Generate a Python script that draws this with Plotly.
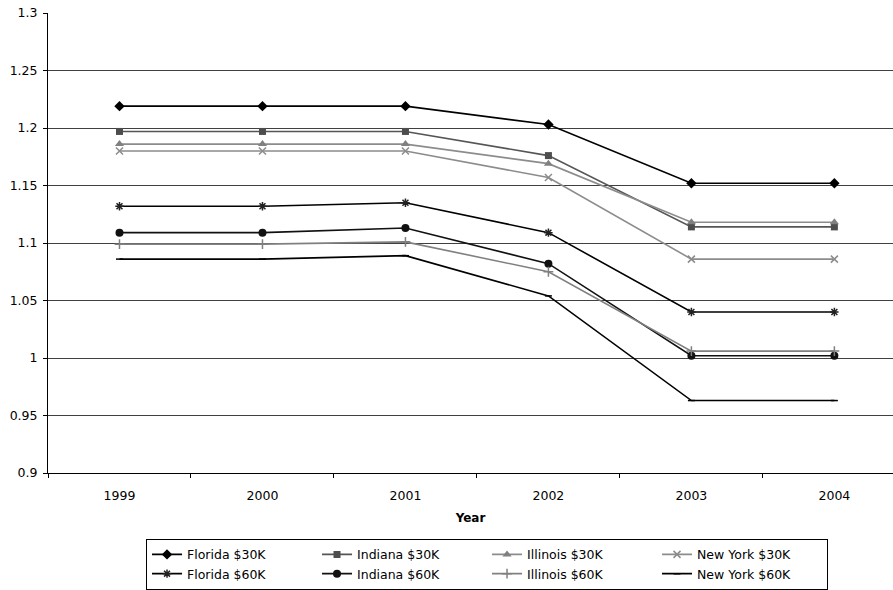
import plotly.graph_objects as go

years = ["1999", "2000", "2001", "2002", "2003", "2004"]

florida_30k = [1.219, 1.219, 1.219, 1.203, 1.152, 1.152]
indiana_30k = [1.197, 1.197, 1.197, 1.176, 1.114, 1.114]
illinois_30k = [1.186, 1.186, 1.186, 1.169, 1.118, 1.118]
newyork_30k = [1.180, 1.180, 1.180, 1.157, 1.086, 1.086]
florida_60k = [1.132, 1.132, 1.135, 1.109, 1.040, 1.040]
indiana_60k = [1.109, 1.109, 1.113, 1.082, 1.002, 1.002]
illinois_60k = [1.099, 1.099, 1.101, 1.075, 1.006, 1.006]
newyork_60k = [1.086, 1.086, 1.089, 1.054, 0.963, 0.963]

series = [
    ("Florida $30K", florida_30k, "#000000", "diamond", 8, "#000000"),
    ("Indiana $30K", indiana_30k, "#555555", "square", 7, "#4d4d4d"),
    ("Illinois $30K", illinois_30k, "#8c8c8c", "triangle-up", 8, "#808080"),
    ("New York $30K", newyork_30k, "#8c8c8c", "x-thin-open", 7, "#8c8c8c"),
    ("Florida $60K", florida_60k, "#000000", "asterisk-open", 7, "#222222"),
    ("Indiana $60K", indiana_60k, "#111111", "circle", 8, "#111111"),
    ("Illinois $60K", illinois_60k, "#808080", "cross-thin-open", 7, "#808080"),
    ("New York $60K", newyork_60k, "#000000", "line-ew-open", 5, "#000000"),
]

fig = go.Figure()
for name, vals, lc, sym, sz, mc in series:
    fig.add_trace(go.Scatter(
        x=years, y=vals, name=name, mode="lines+markers",
        line=dict(color=lc, width=1.6),
        marker=dict(symbol=sym, size=sz, color=mc,
                    line=dict(color=mc, width=1.5 if "open" in sym else 0)),
    ))

font = "DejaVu Sans, sans-serif"
fig.update_layout(
    width=893, height=590,
    margin=dict(l=48, r=0, t=13, b=117),
    plot_bgcolor="white", paper_bgcolor="white",
    font=dict(family=font, size=12, color="#000000"),
    showlegend=True,
    legend=dict(
        orientation="h", x=0.116, y=-0.143, xanchor="left", yanchor="top",
        bordercolor="#000000", borderwidth=1, bgcolor="white",
        font=dict(family=font, size=12.5, color="#000000"),
        entrywidth=125, entrywidthmode="pixels",
        itemwidth=30, tracegroupgap=0,
    ),
    xaxis=dict(
        type="category", range=[-0.5, 5.41],
        showline=True, linecolor="#000000", linewidth=1,
        ticks="outside", ticklen=4, tickcolor="#000000", tickson="boundaries",
        ticklabelstandoff=11,
        showgrid=False, zeroline=False,
        title=dict(text="<b>Year</b>", font=dict(family=font, size=12), standoff=11),
        tickfont=dict(family=font, size=12.5),
    ),
    yaxis=dict(
        range=[0.9, 1.3],
        showline=True, linecolor="#000000", linewidth=1,
        ticks="outside", ticklen=4, tickcolor="#000000",
        ticklabelstandoff=3,
        showgrid=True, gridcolor="#404040", gridwidth=1,
        zeroline=False,
        tickfont=dict(family=font, size=12.5),
        tickvals=[0.9, 0.95, 1.0, 1.05, 1.1, 1.15, 1.2, 1.25, 1.3],
        ticktext=["0.9", "0.95", "1", "1.05", "1.1", "1.15", "1.2", "1.25", "1.3"],
    ),
)

fig.write_html("out.html")
